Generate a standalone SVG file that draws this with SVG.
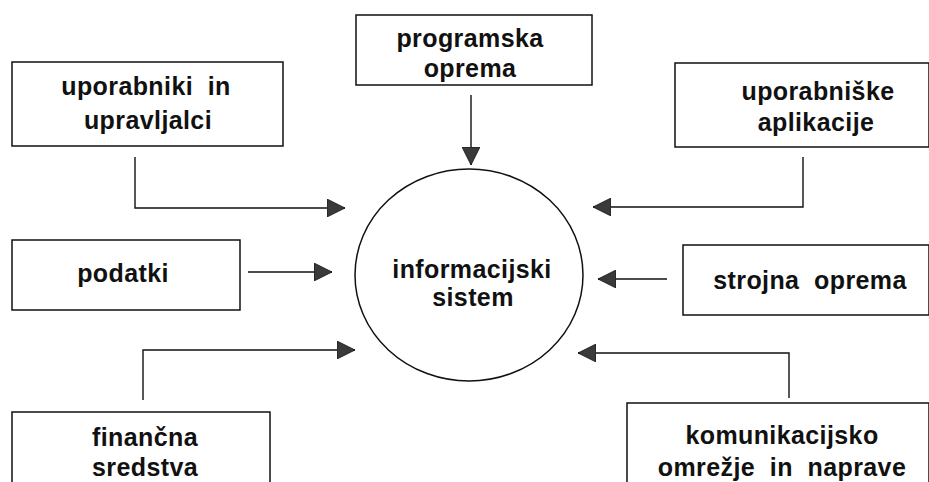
<svg xmlns="http://www.w3.org/2000/svg" width="929" height="482" viewBox="0 0 929 482" xml:space="preserve">
  <style>
    .box { fill: #fff; stroke: #111; stroke-width: 1.5; }
    .lbl { font-family: "Liberation Sans", Arial, sans-serif; font-weight: bold; font-size: 25px; fill: #111; text-anchor: middle; letter-spacing: 0.4px; white-space: pre; }
    .wire { fill: none; stroke: #111; stroke-width: 1.4; }
  </style>
  <defs>
    <marker id="head" markerUnits="userSpaceOnUse" markerWidth="20" markerHeight="18" refX="18" refY="9" orient="auto">
      <path d="M0,0 L18,9 L0,18 Z" fill="#3a3a3a" stroke="#111" stroke-width="0.8"/>
    </marker>
  </defs>
  <rect width="929" height="482" fill="#fff"/>

  <g id="connectors">
    <path class="wire" d="M135,157 V208 H345" marker-end="url(#head)"/>
    <path class="wire" d="M471,95 V165" marker-end="url(#head)"/>
    <path class="wire" d="M803,157 V207 H593" marker-end="url(#head)"/>
    <path class="wire" d="M248,272 H332" marker-end="url(#head)"/>
    <path class="wire" d="M667,279 H598" marker-end="url(#head)"/>
    <path class="wire" d="M143,400 V350 H355" marker-end="url(#head)"/>
    <path class="wire" d="M789,398 V353 H578" marker-end="url(#head)"/>
  </g>

  <g id="n-uporabniki">
    <rect class="box" x="12" y="62" width="271" height="84"/>
    <text class="lbl" x="146" y="95">uporabniki  in</text>
    <text class="lbl" x="148" y="129">upravljalci</text>
  </g>

  <g id="n-programska">
    <rect class="box" x="356" y="15" width="236" height="70"/>
    <text class="lbl" x="470" y="47">programska</text>
    <text class="lbl" x="470" y="77">oprema</text>
  </g>

  <g id="n-aplikacije">
    <rect class="box" x="675" y="63" width="254" height="84"/>
    <text class="lbl" x="818" y="100">uporabniške</text>
    <text class="lbl" x="816" y="131">aplikacije</text>
  </g>

  <g id="n-podatki">
    <rect class="box" x="12" y="240" width="228" height="70"/>
    <text class="lbl" x="123" y="282">podatki</text>
  </g>

  <g id="n-sistem">
    <ellipse cx="469" cy="275" rx="114" ry="106" fill="#fff" stroke="#111" stroke-width="1.5"/>
    <text class="lbl" x="472" y="278">informacijski</text>
    <text class="lbl" x="473" y="306">sistem</text>
  </g>

  <g id="n-strojna">
    <rect class="box" x="683" y="245" width="246" height="70"/>
    <text class="lbl" x="810" y="289">strojna  oprema</text>
  </g>

  <g id="n-financna">
    <rect class="box" x="12" y="412" width="258" height="72"/>
    <text class="lbl" x="145" y="446">finančna</text>
    <text class="lbl" x="145" y="476">sredstva</text>
  </g>

  <g id="n-komunikacije">
    <rect class="box" x="627" y="403" width="302" height="81"/>
    <text class="lbl" x="782" y="444">komunikacijsko</text>
    <text class="lbl" x="782" y="476">omrežje  in  naprave</text>
  </g>
</svg>
